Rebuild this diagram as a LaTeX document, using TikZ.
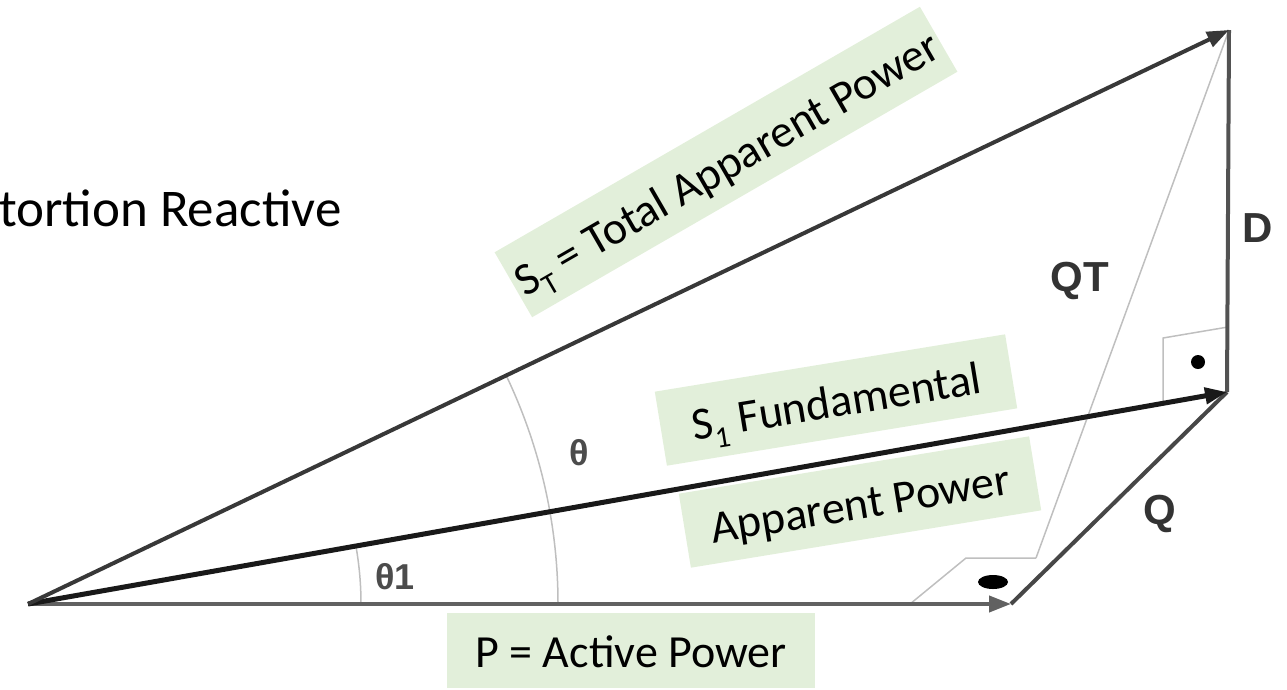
\documentclass[tikz,border=0pt]{standalone}
\usepackage{fontspec}
\setmainfont{Carlito}
\newfontfamily\arialfont{Liberation Sans}
\usetikzlibrary{arrows.meta}
\definecolor{lblgreen}{RGB}{226,239,218}
\newcommand\lowidx[1]{\raisebox{-0.25em}{\fontsize{30}{30}\selectfont #1}}

\begin{document}
\begin{tikzpicture}[x=1pt, y=-1pt,
  vec/.style={-{Triangle[length=22pt,width=16pt]}, line width=4pt},
  side/.style={line width=4pt},
  guide/.style={draw=black!25, line width=1.5pt},
  lbl/.style={fill=lblgreen, font=\fontsize{46}{55}\selectfont, text height=34pt, text depth=0pt, inner xsep=4pt, inner ysep=20.5pt},
  sym/.style={font=\arialfont\bfseries\fontsize{42}{42}\selectfont, text=black!80, inner sep=0pt},
  ang/.style={font=\arialfont\bfseries\fontsize{36}{36}\selectfont, text=black!70, inner sep=0pt}]

\useasboundingbox (0,0) rectangle (1287,689);

\coordinate (O) at (28,604);
\coordinate (P) at (1011,604);
\coordinate (S1) at (1227,392);
\coordinate (ST) at (1229,30);
\coordinate (qa) at (910,604);
\coordinate (qb) at (966,558);
\coordinate (qc) at (1036,558);
\coordinate (da) at (1163,403);
\coordinate (db) at (1163,338);
\coordinate (dc) at (1228,327);

\draw[guide] (qa) -- (qb) -- (qc);
\draw[guide] (qc) -- (ST);
\draw[guide] (da) -- (db) -- (dc);
\draw[guide] (O) ++(333,0) arc[start angle=0, end angle=-10, radius=333];
\draw[guide] (O) ++(530,0) arc[start angle=0, end angle=-25.6, radius=530];

\draw[vec, black!62] (O) -- (P);
\draw[side, black!72] (P) -- (S1);
\draw[side, black!68] (S1) -- (ST);
\draw[vec, black!90, line width=5pt] (O) -- (S1);
\draw[vec, black!78] (O) -- (ST);

\fill (993,582) ellipse [x radius=15, y radius=7];
\fill (1198,362) circle [radius=7];

\node[lbl, minimum width=368pt] (plbl) at (631,650) {P = Active Power};
\node[lbl, rotate=30, minimum width=468pt] (stlbl) at (726,162) {S\lowidx{T} = Total Apparent Power};
\node[lbl, rotate=9.3, minimum width=355pt] (s1lbl) at (836,400) {S\lowidx{1} Fundamental};
\node[lbl, rotate=9.3, minimum width=355pt] (aplbl) at (860,502) {Apparent Power};

\node[anchor=base west, font=\fontsize{53}{60}\selectfont, inner sep=0pt] (dist) at (-1,226) {tortion Reactive};

\node[sym] (qtlbl) at (1080,281) {QT};
\node[sym] (dlbl) at (1258,228) {D};
\node[sym] (qlbl) at (1160,514) {Q};
\node[ang] (thlbl) at (579,453) {θ};
\node[ang] (th1lbl) at (395,577) {θ1};
\end{tikzpicture}
\end{document}
